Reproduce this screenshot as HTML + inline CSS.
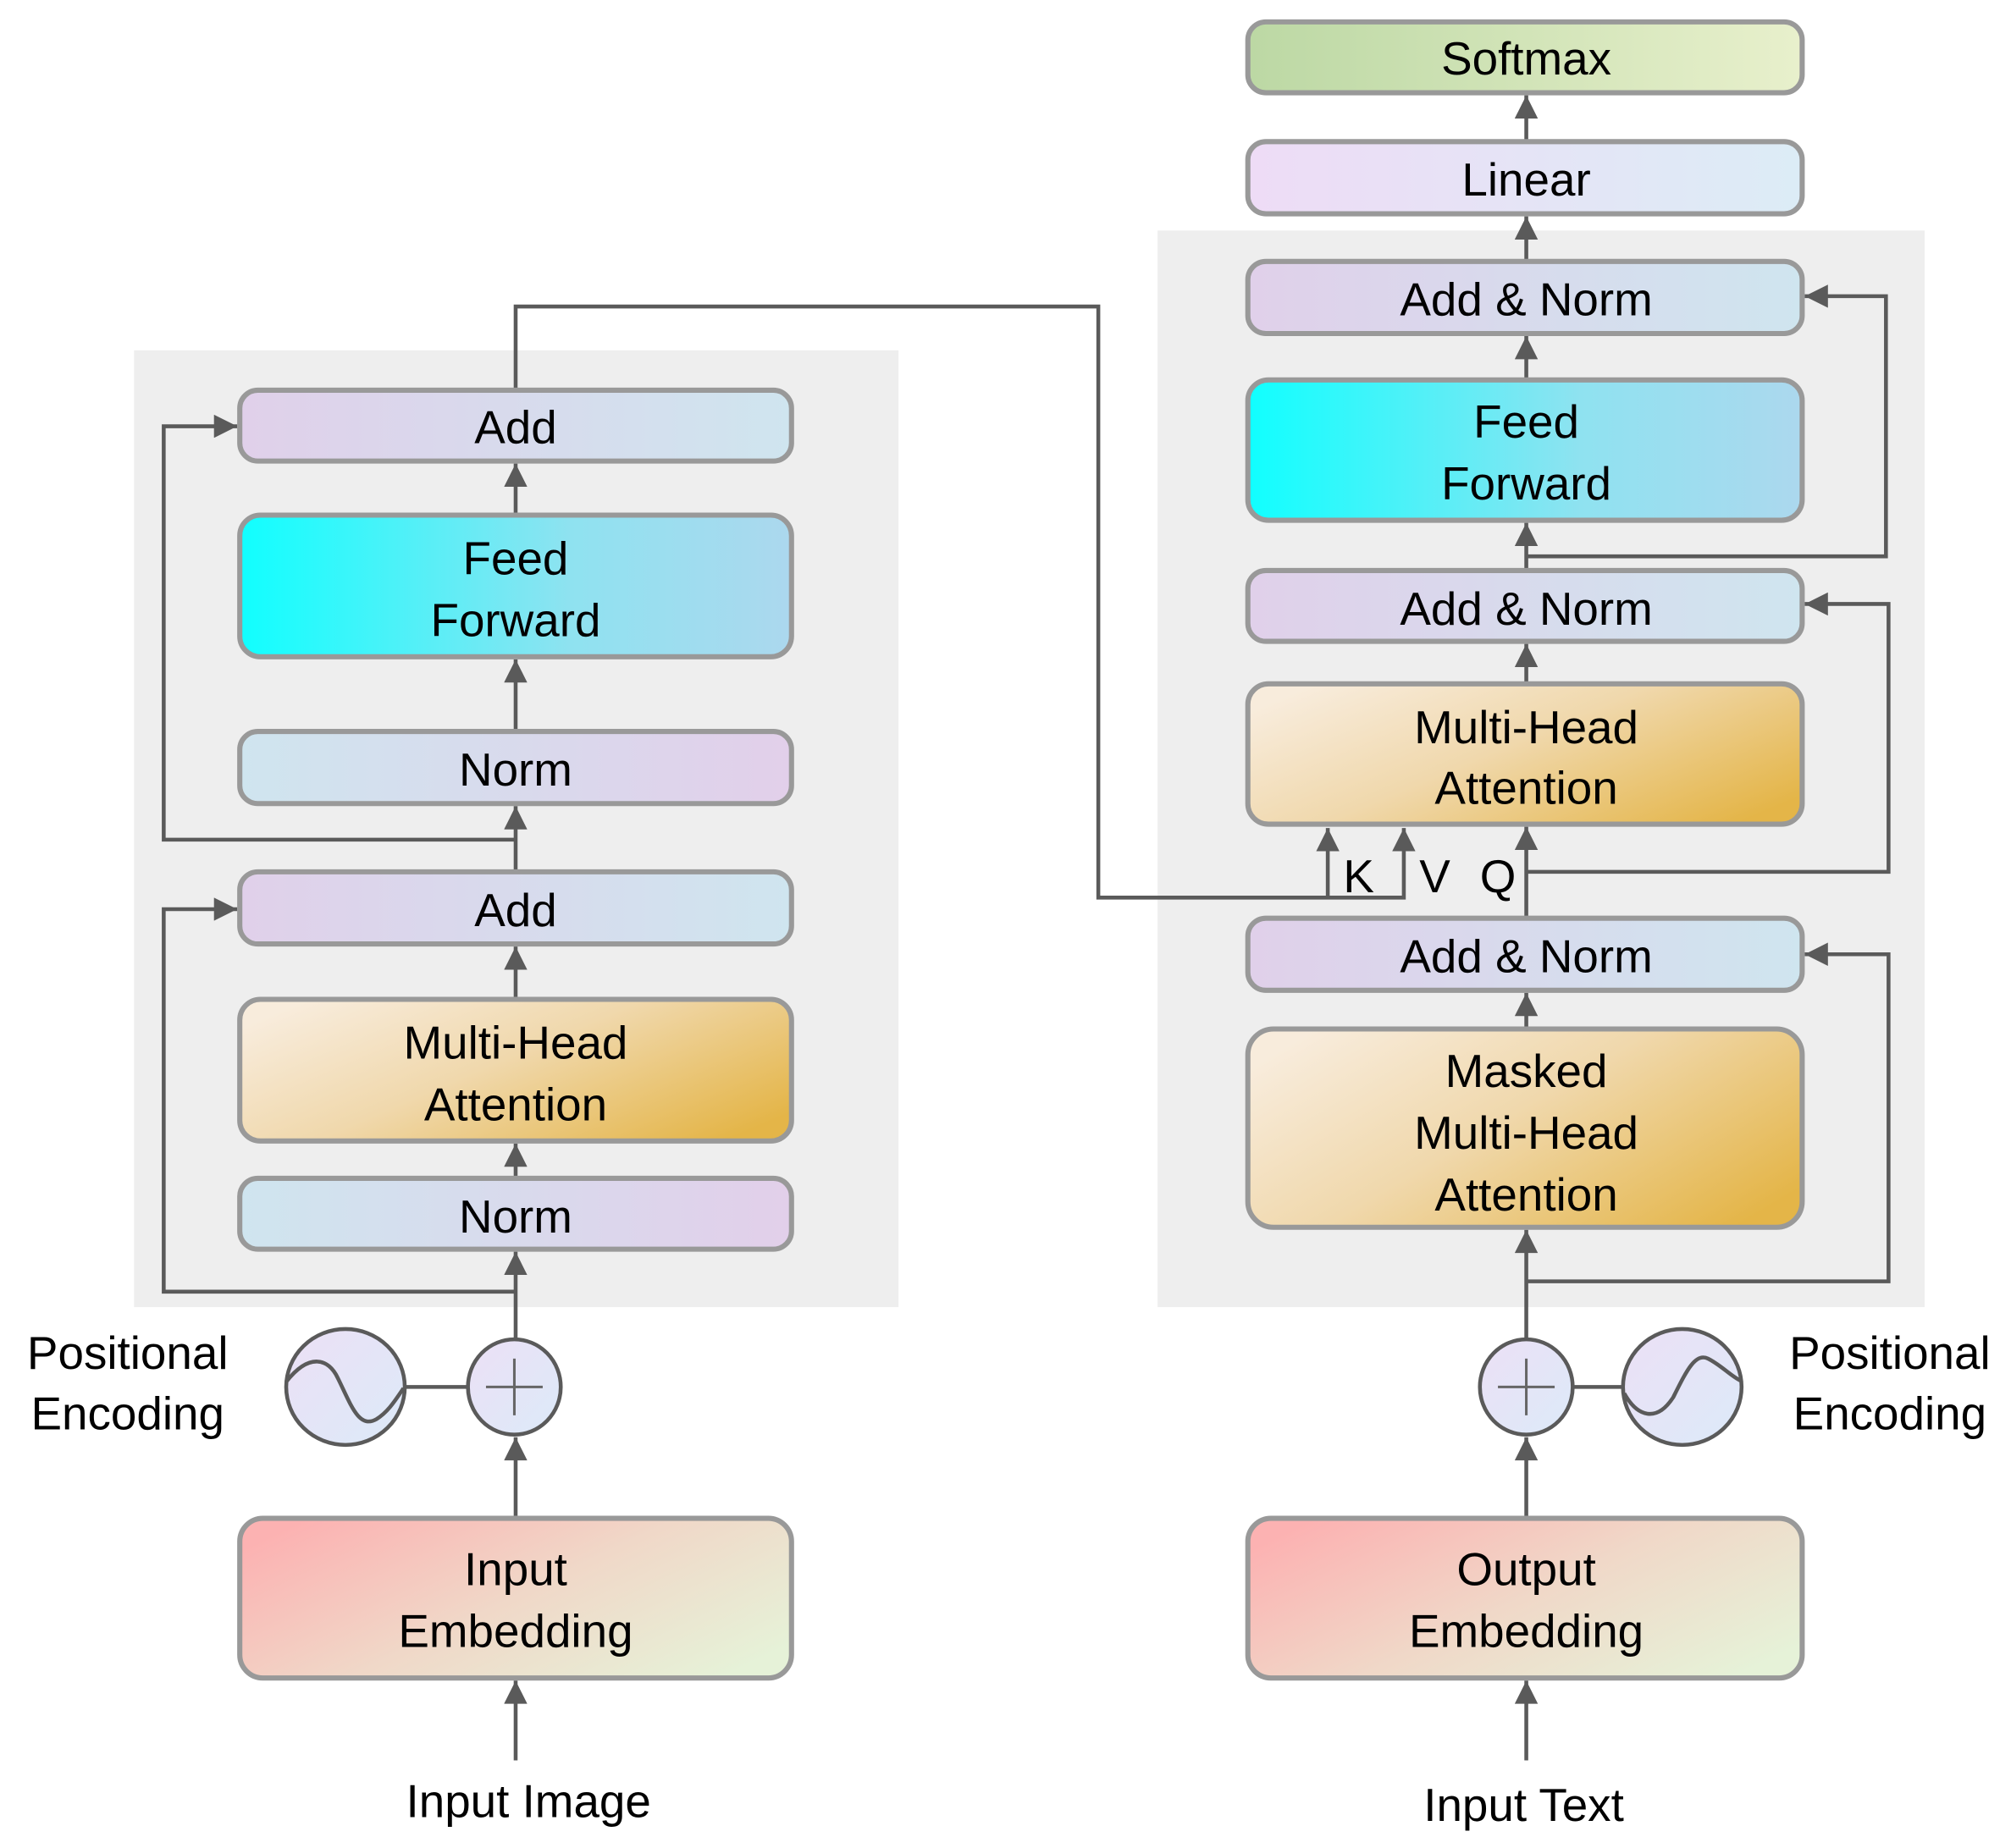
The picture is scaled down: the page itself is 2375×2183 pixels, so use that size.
<!DOCTYPE html>
<html><head><meta charset="utf-8"><style>
html,body{margin:0;padding:0;background:#fff}
svg{display:block}
text{font-family:"Liberation Sans",Arial,sans-serif;font-size:36px;fill:#000;text-anchor:middle}
</style></head><body>
<svg width="2375" height="2183" viewBox="0 0 1560 1435" preserveAspectRatio="none" xmlns="http://www.w3.org/2000/svg">
<defs>
<linearGradient id="add" x1="0" y1="0" x2="1" y2="0"><stop offset="0" stop-color="#e0d0ea"/><stop offset="1" stop-color="#cfe5ef"/></linearGradient>
<linearGradient id="norm" x1="0" y1="0" x2="1" y2="0"><stop offset="0" stop-color="#cfe5ef"/><stop offset="1" stop-color="#e2cfea"/></linearGradient>
<linearGradient id="ff" x1="0" y1="0" x2="1" y2="0"><stop offset="0" stop-color="#10ffff"/><stop offset="0.6" stop-color="#8fe2f0"/><stop offset="1" stop-color="#acd8ee"/></linearGradient>
<linearGradient id="mha" x1="0" y1="0.2" x2="1" y2="0.8"><stop offset="0" stop-color="#f8ecdc"/><stop offset="0.45" stop-color="#f0d8ac"/><stop offset="1" stop-color="#e4b548"/></linearGradient>
<linearGradient id="emb" x1="0" y1="0.2" x2="1" y2="0.8"><stop offset="0" stop-color="#fcb2b2"/><stop offset="0.5" stop-color="#f0d8c8"/><stop offset="1" stop-color="#e6f2d8"/></linearGradient>
<linearGradient id="lin" x1="0" y1="0" x2="1" y2="0"><stop offset="0" stop-color="#eedcf6"/><stop offset="1" stop-color="#dcecf6"/></linearGradient>
<linearGradient id="sm" x1="0" y1="0" x2="1" y2="0"><stop offset="0" stop-color="#bcd8a4"/><stop offset="1" stop-color="#e8f0cc"/></linearGradient>
<linearGradient id="circ" x1="0" y1="0" x2="1" y2="1"><stop offset="0" stop-color="#ece0f6"/><stop offset="1" stop-color="#dceaf8"/></linearGradient>
<marker id="ah" viewBox="0 0 10 10" refX="10" refY="5" markerWidth="7.5" markerHeight="6" orient="auto" markerUnits="strokeWidth"><path d="M0,0 L10,5 L0,10 z" fill="#5a5a5a"/></marker>
</defs>
<rect x="104" y="272" width="593" height="743" fill="#eeeeee"/>
<rect x="898" y="179" width="595" height="836" fill="#eeeeee"/>

<g stroke="#5a5a5a" stroke-width="3" fill="none">
<path d="M400 1367 L400 1305" marker-end="url(#ah)"/>
<path d="M400 1178 L400 1116" marker-end="url(#ah)"/>
<path d="M400 1040 L400 972" marker-end="url(#ah)"/>
<path d="M400 1003 L127 1003 L127 706 L184 706" marker-end="url(#ah)"/>
<path d="M400 914 L400 888" marker-end="url(#ah)"/>
<path d="M400 775 L400 735" marker-end="url(#ah)"/>
<path d="M400 676 L400 626" marker-end="url(#ah)"/>
<path d="M400 652 L127 652 L127 331 L184 331" marker-end="url(#ah)"/>
<path d="M400 567 L400 512" marker-end="url(#ah)"/>
<path d="M400 399 L400 360" marker-end="url(#ah)"/>
<path d="M400 302 L400 238 L852 238 L852 697 L1089 697 L1089 643" marker-end="url(#ah)"/>
<path d="M1030 697 L1030 643" marker-end="url(#ah)"/>
<path d="M314 1077 L362 1077"/>
<path d="M1184 1367 L1184 1305" marker-end="url(#ah)"/>
<path d="M1184 1178 L1184 1116" marker-end="url(#ah)"/>
<path d="M1184 1040 L1184 955" marker-end="url(#ah)"/>
<path d="M1184 995 L1465 995 L1465 741 L1400 741" marker-end="url(#ah)"/>
<path d="M1184 798 L1184 771" marker-end="url(#ah)"/>
<path d="M1184 712 L1184 642" marker-end="url(#ah)"/>
<path d="M1184 677 L1465 677 L1465 469 L1400 469" marker-end="url(#ah)"/>
<path d="M1184 530 L1184 500" marker-end="url(#ah)"/>
<path d="M1184 442 L1184 406" marker-end="url(#ah)"/>
<path d="M1184 432 L1463 432 L1463 230 L1400 230" marker-end="url(#ah)"/>
<path d="M1184 294 L1184 261" marker-end="url(#ah)"/>
<path d="M1184 202 L1184 168" marker-end="url(#ah)"/>
<path d="M1184 109 L1184 74" marker-end="url(#ah)"/>
<path d="M1221 1077 L1260 1077"/>
</g>

<g stroke="#999" stroke-width="4">
<rect x="186" y="303" width="428" height="55" rx="14" fill="url(#add)"/>
<rect x="186" y="400" width="428" height="110" rx="16" fill="url(#ff)"/>
<rect x="186" y="568" width="428" height="56" rx="14" fill="url(#norm)"/>
<rect x="186" y="677" width="428" height="56" rx="14" fill="url(#add)"/>
<rect x="186" y="776" width="428" height="110" rx="16" fill="url(#mha)"/>
<rect x="186" y="915" width="428" height="55" rx="14" fill="url(#norm)"/>
<rect x="186" y="1179" width="428" height="124" rx="18" fill="url(#emb)"/>
<rect x="968" y="17" width="430" height="55" rx="14" fill="url(#sm)"/>
<rect x="968" y="110" width="430" height="56" rx="14" fill="url(#lin)"/>
<rect x="968" y="203" width="430" height="56" rx="14" fill="url(#add)"/>
<rect x="968" y="295" width="430" height="109" rx="16" fill="url(#ff)"/>
<rect x="968" y="443" width="430" height="55" rx="14" fill="url(#add)"/>
<rect x="968" y="531" width="430" height="109" rx="16" fill="url(#mha)"/>
<rect x="968" y="713" width="430" height="56" rx="14" fill="url(#add)"/>
<rect x="968" y="799" width="430" height="154" rx="20" fill="url(#mha)"/>
<rect x="968" y="1179" width="430" height="124" rx="18" fill="url(#emb)"/>
</g>

<g stroke="#5a5a5a" stroke-width="3">
<ellipse cx="268" cy="1077" rx="46" ry="45" fill="url(#circ)"/>
<ellipse cx="399" cy="1077" rx="36" ry="37" fill="url(#circ)"/>
<ellipse cx="1305" cy="1077" rx="46" ry="45" fill="url(#circ)"/>
<ellipse cx="1184" cy="1077" rx="36" ry="37" fill="url(#circ)"/>
<path d="M222 1073 C240 1050 255 1055 262 1070 C272 1090 278 1110 292 1102 C300 1097 305 1090 313 1078" fill="none"/>
<path d="M1260 1082 C1270 1100 1285 1105 1298 1085 C1308 1065 1315 1050 1325 1055 C1335 1060 1342 1068 1350 1072" fill="none"/>
</g>
<g stroke="#666" stroke-width="2">
<path d="M399 1055 V1099 M377 1077 H421"/>
<path d="M1184 1055 V1099 M1162 1077 H1206"/>
</g>

<text x="400" y="344">Add</text>
<text x="400" y="446">Feed</text><text x="400" y="494">Forward</text>
<text x="400" y="610">Norm</text>
<text x="400" y="719">Add</text>
<text x="400" y="822">Multi-Head</text><text x="400" y="870">Attention</text>
<text x="400" y="957">Norm</text>
<text x="400" y="1231">Input</text><text x="400" y="1279">Embedding</text>
<text x="410" y="1411">Input Image</text>
<text x="99" y="1063">Positional</text><text x="99" y="1110">Encoding</text>
<text x="1184" y="58">Softmax</text>
<text x="1184" y="152">Linear</text>
<text x="1184" y="245">Add &amp; Norm</text>
<text x="1184" y="340">Feed</text><text x="1184" y="388">Forward</text>
<text x="1184" y="485">Add &amp; Norm</text>
<text x="1184" y="577">Multi-Head</text><text x="1184" y="624">Attention</text>
<text x="1184" y="755">Add &amp; Norm</text>
<text x="1184" y="844">Masked</text><text x="1184" y="892">Multi-Head</text><text x="1184" y="940">Attention</text>
<text x="1184" y="1231">Output</text><text x="1184" y="1279">Embedding</text>
<text x="1182" y="1414">Input Text</text>
<text x="1466" y="1063">Positional</text><text x="1466" y="1110">Encoding</text>
<text x="1054" y="693">K</text>
<text x="1113" y="693">V</text>
<text x="1162" y="693">Q</text>
</svg>
</body></html>
